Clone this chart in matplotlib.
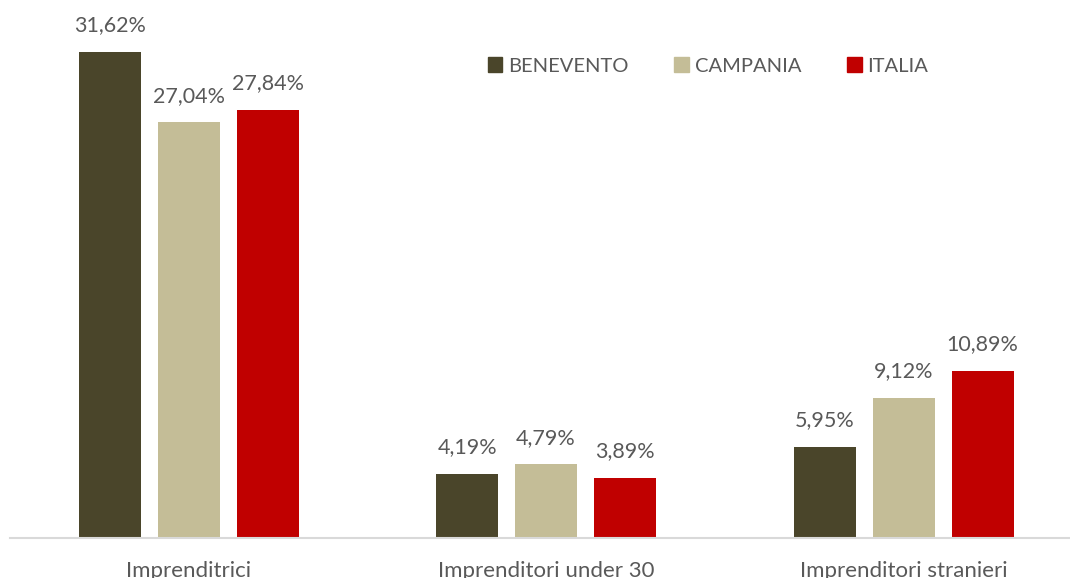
import numpy as np
import matplotlib.pyplot as plt
from matplotlib.patches import Patch

categorie = ['Imprenditrici', 'Imprenditori under 30', 'Imprenditori stranieri']
serie = ['BENEVENTO', 'CAMPANIA', 'ITALIA']
benevento = [31.62, 4.19, 5.95]
campania = [27.04, 4.79, 9.12]
italia = [27.84, 3.89, 10.89]
colori = ['#4A452A', '#C4BD97', '#C00000']

plt.rcParams['font.family'] = ['Lato', 'DejaVu Sans']
testo = '#595959'

fig = plt.figure(figsize=(10.70, 5.78), dpi=100)
ax = fig.add_axes([10 / 1070, 40 / 578, 1060 / 1070, 538 / 578])

x = np.arange(len(categorie))
larghezza = 0.1734
passo = 0.221

for i, (valori, colore) in enumerate(zip([benevento, campania, italia], colori)):
    pos = x + (i - 1) * passo
    bars = ax.bar(pos, valori, width=larghezza, color=colore)
    for b, v in zip(bars, valori):
        ax.annotate(f'{v:.2f}%'.replace('.', ','),
                    (b.get_x() + b.get_width() / 2, v),
                    xytext=(0, 12), textcoords='offset points',
                    ha='center', va='bottom', fontsize=15.5, color=testo)

ax.set_xlim(-0.5, (1070 - 188.5) / 357.5)
ax.set_ylim(0, 35)
ax.set_xticks(x)
ax.set_xticklabels(categorie, fontsize=16, color=testo)
ax.tick_params(axis='x', length=0, pad=16.5)
ax.set_yticks([])
for lato in ['top', 'right', 'left']:
    ax.spines[lato].set_visible(False)
ax.spines['bottom'].set_color('#D9D9D9')
ax.spines['bottom'].set_linewidth(1.5)

handles = [Patch(color=c, label=s) for c, s in zip(colori, serie)]
fig.legend(handles=handles, loc='center', bbox_to_anchor=(708 / 1070, 1 - 66 / 578),
           ncol=3, frameon=False, fontsize=14.5, labelcolor=testo,
           handlelength=0.7, handleheight=0.7, handletextpad=0.3, columnspacing=2.3)

plt.savefig('out.png', dpi=100)
